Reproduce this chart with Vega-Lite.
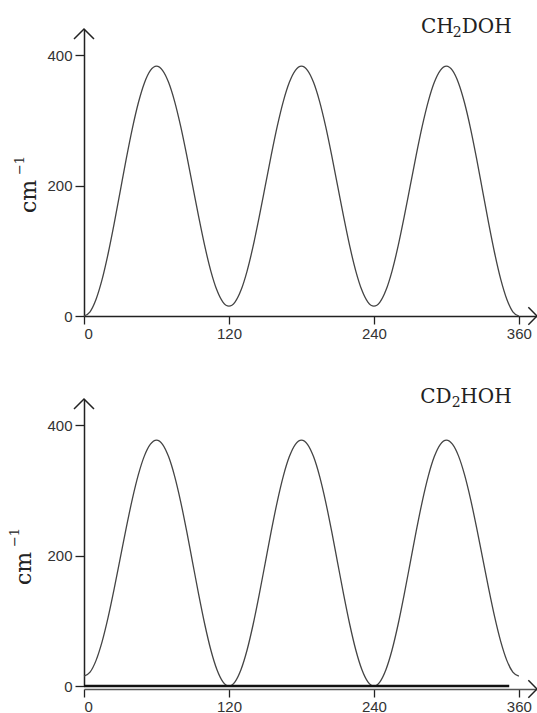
{
  "$schema": "https://vega.github.io/schema/vega-lite/v6.json",
  "padding": {"left": 9, "top": 17, "right": 0, "bottom": 0},
  "spacing": 46,
  "background": "white",
  "config": {
    "view": {"stroke": null},
    "axis": {
      "grid": false,
      "domainColor": "#222",
      "domainWidth": 1.5,
      "tickColor": "#222",
      "tickWidth": 1.3,
      "labelFont": "Liberation Sans",
      "labelFontSize": 15,
      "labelColor": "#333",
      "titleFont": "DejaVu Serif",
      "titleFontSize": 22,
      "titleFontWeight": "normal",
      "titleColor": "#222"
    },
    "text": {"font": "DejaVu Serif", "color": "#222", "baseline": "alphabetic"}
  },
  "datasets": {
    "top": [
      {"angle": 0, "energy": 0}, {"angle": 5, "energy": 6.5}, {"angle": 10, "energy": 25.7}, {"angle": 15, "energy": 56.1},
      {"angle": 20, "energy": 95.8}, {"angle": 25, "energy": 141.9}, {"angle": 30, "energy": 191.5}, {"angle": 35, "energy": 241.1},
      {"angle": 40, "energy": 287.3}, {"angle": 45, "energy": 326.9}, {"angle": 50, "energy": 357.3}, {"angle": 55, "energy": 376.5},
      {"angle": 60, "energy": 383}, {"angle": 65, "energy": 376.7}, {"angle": 70, "energy": 358.3}, {"angle": 75, "energy": 329.1},
      {"angle": 80, "energy": 291}, {"angle": 85, "energy": 246.6}, {"angle": 90, "energy": 199}, {"angle": 95, "energy": 151.4},
      {"angle": 100, "energy": 107}, {"angle": 105, "energy": 68.9}, {"angle": 110, "energy": 39.7}, {"angle": 115, "energy": 21.3},
      {"angle": 120, "energy": 15}, {"angle": 125, "energy": 21.3}, {"angle": 130, "energy": 39.7}, {"angle": 135, "energy": 68.9},
      {"angle": 140, "energy": 107}, {"angle": 145, "energy": 151.4}, {"angle": 150, "energy": 199}, {"angle": 155, "energy": 246.6},
      {"angle": 160, "energy": 291}, {"angle": 165, "energy": 329.1}, {"angle": 170, "energy": 358.3}, {"angle": 175, "energy": 376.7},
      {"angle": 180, "energy": 383}, {"angle": 185, "energy": 376.7}, {"angle": 190, "energy": 358.3}, {"angle": 195, "energy": 329.1},
      {"angle": 200, "energy": 291}, {"angle": 205, "energy": 246.6}, {"angle": 210, "energy": 199}, {"angle": 215, "energy": 151.4},
      {"angle": 220, "energy": 107}, {"angle": 225, "energy": 68.9}, {"angle": 230, "energy": 39.7}, {"angle": 235, "energy": 21.3},
      {"angle": 240, "energy": 15}, {"angle": 245, "energy": 21.3}, {"angle": 250, "energy": 39.7}, {"angle": 255, "energy": 68.9},
      {"angle": 260, "energy": 107}, {"angle": 265, "energy": 151.4}, {"angle": 270, "energy": 199}, {"angle": 275, "energy": 246.6},
      {"angle": 280, "energy": 291}, {"angle": 285, "energy": 329.1}, {"angle": 290, "energy": 358.3}, {"angle": 295, "energy": 376.7},
      {"angle": 300, "energy": 383}, {"angle": 305, "energy": 376.5}, {"angle": 310, "energy": 357.3}, {"angle": 315, "energy": 326.9},
      {"angle": 320, "energy": 287.3}, {"angle": 325, "energy": 241.1}, {"angle": 330, "energy": 191.5}, {"angle": 335, "energy": 141.9},
      {"angle": 340, "energy": 95.8}, {"angle": 345, "energy": 56.1}, {"angle": 350, "energy": 25.7}, {"angle": 355, "energy": 6.5},
      {"angle": 360, "energy": 0}
    ],
    "bottom": [
      {"angle": 0, "energy": 15}, {"angle": 5, "energy": 21.2}, {"angle": 10, "energy": 39.3}, {"angle": 15, "energy": 68},
      {"angle": 20, "energy": 105.5}, {"angle": 25, "energy": 149.2}, {"angle": 30, "energy": 196}, {"angle": 35, "energy": 242.8},
      {"angle": 40, "energy": 286.5}, {"angle": 45, "energy": 324}, {"angle": 50, "energy": 352.8}, {"angle": 55, "energy": 370.8},
      {"angle": 60, "energy": 377}, {"angle": 65, "energy": 370.6}, {"angle": 70, "energy": 351.7}, {"angle": 75, "energy": 321.8},
      {"angle": 80, "energy": 282.8}, {"angle": 85, "energy": 237.3}, {"angle": 90, "energy": 188.5}, {"angle": 95, "energy": 139.7},
      {"angle": 100, "energy": 94.3}, {"angle": 105, "energy": 55.2}, {"angle": 110, "energy": 25.3}, {"angle": 115, "energy": 6.4},
      {"angle": 120, "energy": 0}, {"angle": 125, "energy": 6.4}, {"angle": 130, "energy": 25.3}, {"angle": 135, "energy": 55.2},
      {"angle": 140, "energy": 94.3}, {"angle": 145, "energy": 139.7}, {"angle": 150, "energy": 188.5}, {"angle": 155, "energy": 237.3},
      {"angle": 160, "energy": 282.8}, {"angle": 165, "energy": 321.8}, {"angle": 170, "energy": 351.7}, {"angle": 175, "energy": 370.6},
      {"angle": 180, "energy": 377}, {"angle": 185, "energy": 370.6}, {"angle": 190, "energy": 351.7}, {"angle": 195, "energy": 321.8},
      {"angle": 200, "energy": 282.8}, {"angle": 205, "energy": 237.3}, {"angle": 210, "energy": 188.5}, {"angle": 215, "energy": 139.7},
      {"angle": 220, "energy": 94.3}, {"angle": 225, "energy": 55.2}, {"angle": 230, "energy": 25.3}, {"angle": 235, "energy": 6.4},
      {"angle": 240, "energy": 0}, {"angle": 245, "energy": 6.4}, {"angle": 250, "energy": 25.3}, {"angle": 255, "energy": 55.2},
      {"angle": 260, "energy": 94.3}, {"angle": 265, "energy": 139.7}, {"angle": 270, "energy": 188.5}, {"angle": 275, "energy": 237.3},
      {"angle": 280, "energy": 282.8}, {"angle": 285, "energy": 321.8}, {"angle": 290, "energy": 351.7}, {"angle": 295, "energy": 370.6},
      {"angle": 300, "energy": 377}, {"angle": 305, "energy": 370.8}, {"angle": 310, "energy": 352.8}, {"angle": 315, "energy": 324},
      {"angle": 320, "energy": 286.5}, {"angle": 325, "energy": 242.8}, {"angle": 330, "energy": 196}, {"angle": 335, "energy": 149.2},
      {"angle": 340, "energy": 105.5}, {"angle": 345, "energy": 68}, {"angle": 350, "energy": 39.3}, {"angle": 355, "energy": 21.2},
      {"angle": 360, "energy": 15}
    ]
  },
  "vconcat": [
    {
      "width": 453,
      "height": 287,
      "layer": [
        {
          "data": {"name": "top"},
          "mark": {"type": "line", "color": "#444", "strokeWidth": 1.3, "interpolate": "monotone"},
          "encoding": {
            "x": {"field": "angle", "type": "quantitative", "scale": {"domain": [0, 375], "nice": false},
                  "axis": {"values": [0, 120, 240, 360], "title": null, "tickSize": 8, "labelPadding": 2}},
            "y": {"field": "energy", "type": "quantitative", "scale": {"domain": [0, 440], "nice": false},
                  "axis": {"values": [0, 200, 400], "title": "cm", "tickSize": 9, "labelPadding": 3,
                           "titleAngle": -90, "titleX": -49, "titleY": 167, "titleBaseline": "alphabetic", "titleAlign": "center"}}
          }
        },
        {
          "data": {"values": [{"label": "−1"}]},
          "mark": {"type": "text", "fontSize": 13, "angle": -90, "align": "left"},
          "encoding": {"x": {"datum": -49.7, "type": "quantitative"}, "y": {"datum": 216, "type": "quantitative"}, "text": {"field": "label"}}
        },
        {
          "data": {"values": [{}]},
          "mark": {"type": "point", "shape": "M -1 1 L 0 0 L 1 1", "filled": false, "size": 400, "stroke": "#222", "strokeWidth": 1.5, "opacity": 1},
          "encoding": {"x": {"datum": 0, "type": "quantitative"}, "y": {"datum": 440, "type": "quantitative"}}
        },
        {
          "data": {"values": [{}]},
          "mark": {"type": "point", "shape": "M -1 -1 L 0 0 L -1 1", "filled": false, "size": 300, "stroke": "#222", "strokeWidth": 1.5, "opacity": 1},
          "encoding": {"x": {"datum": 375, "type": "quantitative"}, "y": {"datum": 0, "type": "quantitative"}}
        },
        {
          "data": {"values": [{"label": "DOH"}]},
          "mark": {"type": "text", "fontSize": 20, "align": "right"},
          "encoding": {"x": {"datum": 354, "type": "quantitative"}, "y": {"datum": 433.7, "type": "quantitative"}, "text": {"field": "label"}}
        },
        {
          "data": {"values": [{"label": "2"}]},
          "mark": {"type": "text", "fontSize": 14, "align": "right", "dx": -50, "dy": 4},
          "encoding": {"x": {"datum": 354, "type": "quantitative"}, "y": {"datum": 433.7, "type": "quantitative"}, "text": {"field": "label"}}
        },
        {
          "data": {"values": [{"label": "CH"}]},
          "mark": {"type": "text", "fontSize": 20, "align": "right", "dx": -58},
          "encoding": {"x": {"datum": 354, "type": "quantitative"}, "y": {"datum": 433.7, "type": "quantitative"}, "text": {"field": "label"}}
        }
      ]
    },
    {
      "width": 453,
      "height": 287,
      "layer": [
        {
          "data": {"name": "bottom"},
          "mark": {"type": "line", "color": "#444", "strokeWidth": 1.3, "interpolate": "monotone"},
          "encoding": {
            "x": {"field": "angle", "type": "quantitative", "scale": {"domain": [0, 375], "nice": false},
                  "axis": {"values": [0, 120, 240, 360], "title": null, "tickSize": 8, "labelPadding": 2, "offset": 3, "domainColor": "#555"}},
            "y": {"field": "energy", "type": "quantitative", "scale": {"domain": [0, 440], "nice": false},
                  "axis": {"values": [0, 200, 400], "title": "cm", "tickSize": 9, "labelPadding": 3,
                           "titleAngle": -90, "titleX": -54, "titleY": 169, "titleBaseline": "alphabetic", "titleAlign": "center"}}
          }
        },
        {
          "data": {"values": [{"label": "−1"}]},
          "mark": {"type": "text", "fontSize": 13, "angle": -90, "align": "left"},
          "encoding": {"x": {"datum": -53.8, "type": "quantitative"}, "y": {"datum": 213, "type": "quantitative"}, "text": {"field": "label"}}
        },
        {
          "data": {"values": [{}]},
          "mark": {"type": "rule", "color": "#111", "strokeWidth": 2.5},
          "encoding": {"x": {"datum": 0, "type": "quantitative"}, "x2": {"datum": 352}, "y": {"datum": 0, "type": "quantitative"}}
        },
        {
          "data": {"values": [{}]},
          "mark": {"type": "point", "shape": "M -1 1 L 0 0 L 1 1", "filled": false, "size": 400, "stroke": "#222", "strokeWidth": 1.5, "opacity": 1},
          "encoding": {"x": {"datum": 0, "type": "quantitative"}, "y": {"datum": 440, "type": "quantitative"}}
        },
        {
          "data": {"values": [{}]},
          "mark": {"type": "point", "shape": "M -1 -1 L 0 0 L -1 1", "filled": false, "size": 300, "stroke": "#222", "strokeWidth": 1.5, "opacity": 1, "yOffset": 3},
          "encoding": {"x": {"datum": 375, "type": "quantitative"}, "y": {"datum": 0, "type": "quantitative"}}
        },
        {
          "data": {"values": [{"label": "HOH"}]},
          "mark": {"type": "text", "fontSize": 20, "align": "right"},
          "encoding": {"x": {"datum": 354, "type": "quantitative"}, "y": {"datum": 433.7, "type": "quantitative"}, "text": {"field": "label"}}
        },
        {
          "data": {"values": [{"label": "2"}]},
          "mark": {"type": "text", "fontSize": 14, "align": "right", "dx": -51, "dy": 4},
          "encoding": {"x": {"datum": 354, "type": "quantitative"}, "y": {"datum": 433.7, "type": "quantitative"}, "text": {"field": "label"}}
        },
        {
          "data": {"values": [{"label": "CD"}]},
          "mark": {"type": "text", "fontSize": 20, "align": "right", "dx": -60},
          "encoding": {"x": {"datum": 354, "type": "quantitative"}, "y": {"datum": 433.7, "type": "quantitative"}, "text": {"field": "label"}}
        }
      ]
    }
  ]
}
